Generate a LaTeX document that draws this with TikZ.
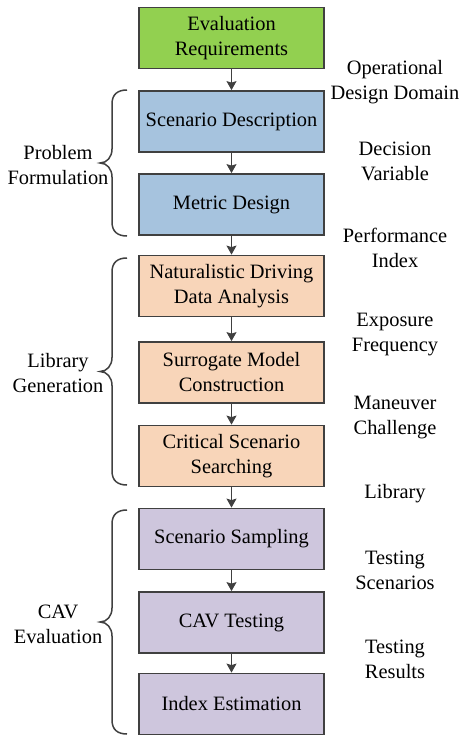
\documentclass[tikz,border=0pt]{standalone}
\usepackage{fontspec}
\setmainfont{Liberation Serif}
\usetikzlibrary{arrows.meta}

\definecolor{edgegray}{HTML}{404040}
\definecolor{reqgreen}{HTML}{92D050}
\definecolor{probblue}{HTML}{A6C3DE}
\definecolor{libpeach}{HTML}{F8D5B9}
\definecolor{evalpurple}{HTML}{CEC6DD}

\tikzset{
  block/.style={draw=edgegray, line width=1.8pt, minimum width=185pt, minimum height=61pt,
    align=center, inner sep=2pt, font=\fontsize{20.4}{25}\selectfont},
  flow/.style={draw=edgegray, line width=1.3pt, -{Stealth[length=9pt,width=10pt,inset=1.5pt]}},
  sidetext/.style={align=center, inner sep=0pt, font=\fontsize{20.4}{25}\selectfont},
  bracket/.style={draw=edgegray, line width=1.5pt}
}

\begin{document}
\begin{tikzpicture}[x=1pt,y=-1pt]
\useasboundingbox (0,0) rectangle (459,736);

% main column
\node[block, fill=reqgreen]   (req)  at (231.5,38)    {Evaluation\\Requirements};
\node[block, fill=probblue]   (desc) at (231.5,121.5) {Scenario Description};
\node[block, fill=probblue]   (metr) at (231.5,204.5) {Metric Design};
\node[block, fill=libpeach]   (nde)  at (231.5,286)   {Naturalistic Driving\\Data Analysis};
\node[block, fill=libpeach]   (surr) at (231.5,372.5) {Surrogate Model\\Construction};
\node[block, fill=libpeach]   (crit) at (231.5,456)   {Critical Scenario\\Searching};
\node[block, fill=evalpurple] (samp) at (231.5,539)   {Scenario Sampling};
\node[block, fill=evalpurple] (test) at (231.5,622.5) {CAV Testing};
\node[block, fill=evalpurple] (est)  at (231.5,704)   {Index Estimation};

\foreach \a/\b in {req/desc, desc/metr, metr/nde, nde/surr, surr/crit, crit/samp, samp/test, test/est}
  \draw[flow] (\a) -- (\b);

% outputs on the right
\node[sidetext] (odd) at (395,82.5)  {Operational\\Design Domain};
\node[sidetext] (dv)  at (395,161.5) {Decision\\Variable};
\node[sidetext] (pi)  at (395,248)   {Performance\\Index};
\node[sidetext] (ef)  at (395,334.5) {Exposure\\Frequency};
\node[sidetext] (mc)  at (395,417.5) {Maneuver\\Challenge};
\node[sidetext] (lib) at (395,494)   {Library};
\node[sidetext] (ts)  at (395,570.5) {Testing\\Scenarios};
\node[sidetext] (tr)  at (395,659.5) {Testing\\Results};

% stages on the left
\node[sidetext] (pf) at (58,165.5) {Problem\\Formulation};
\node[sidetext] (lg) at (58,373.5) {Library\\Generation};
\node[sidetext] (ce) at (58,624.5) {CAV\\Evaluation};

\foreach \t/\b in {90/236, 258/485, 510/734}{
  \pgfmathsetmacro{\m}{(\t+\b)/2}
  \draw[bracket] (127,\t) .. controls (118,\t) and (112,{\t+4}) .. (112,{\t+14})
    -- (112,{\m-14}) .. controls (112,{\m-6}) and (107,\m) .. (100,\m)
    .. controls (107,\m) and (112,{\m+6}) .. (112,{\m+14})
    -- (112,{\b-14}) .. controls (112,{\b-4}) and (118,\b) .. (127,\b);
}
\end{tikzpicture}
\end{document}
